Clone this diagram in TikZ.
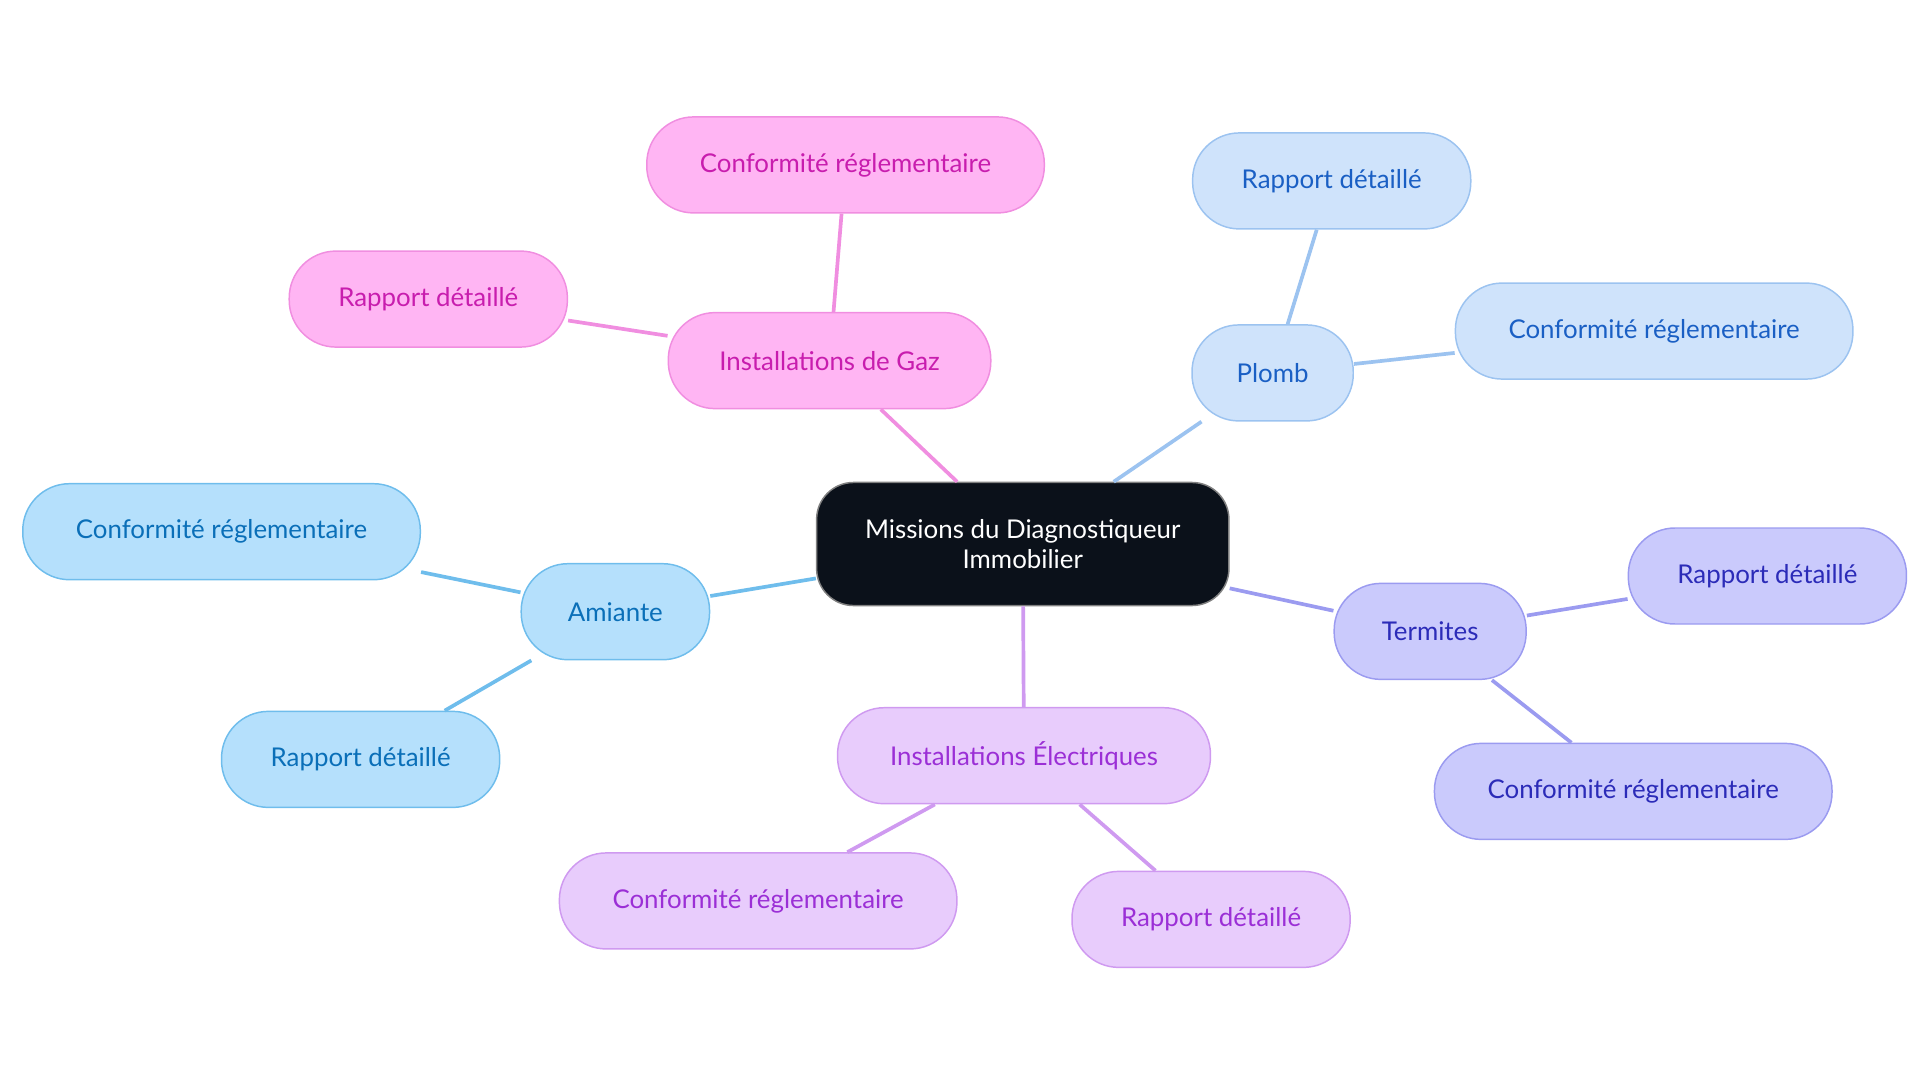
\documentclass[tikz,border=0pt]{standalone}
\usepackage{fontspec}
\setmainfont{Lato}
\begin{document}
\begin{tikzpicture}[x=1pt,y=-1pt,
 base/.style={rounded corners=38pt,minimum height=78pt,line width=1.2pt,font=\fontsize{21}{24}\selectfont,align=center,inner sep=0pt},
 gaz/.style={base,fill=gazf,draw=gazd,text=gazt},
 plo/.style={base,fill=plof,draw=plod,text=plot},
 ami/.style={base,fill=amif,draw=amid,text=amit},
 ter/.style={base,fill=terf,draw=terd,text=tert},
 ele/.style={base,fill=elef,draw=eled,text=elet},
 ed/.style={line width=3pt}]
\definecolor{gazf}{HTML}{FFB5F3}\definecolor{gazd}{HTML}{F08EE0}\definecolor{gazt}{HTML}{C81DAE}
\definecolor{plof}{HTML}{CFE3FB}\definecolor{plod}{HTML}{9CC3F0}\definecolor{plot}{HTML}{1A5FC4}
\definecolor{amif}{HTML}{B5E0FC}\definecolor{amid}{HTML}{6FBDEC}\definecolor{amit}{HTML}{0A6FB8}
\definecolor{terf}{HTML}{CACAFC}\definecolor{terd}{HTML}{9B9BF0}\definecolor{tert}{HTML}{2B2BB8}
\definecolor{elef}{HTML}{E8CCFC}\definecolor{eled}{HTML}{CF9AF0}\definecolor{elet}{HTML}{9B2FD6}
\definecolor{cfill}{HTML}{0B111A}
\useasboundingbox (0,0) rectangle (1560,880);
\node[base,fill=cfill,draw=gray,text=white,minimum width=335pt,minimum height=100pt,rounded corners=30pt] (c) at (831,442) {Missions du Diagnostiqueur\\Immobilier};
\node[gaz,minimum width=262pt] (g) at (674,293) {Installations de Gaz};
\node[gaz,minimum width=323pt] (g1) at (687,134) {Conformité réglementaire};
\node[gaz,minimum width=226pt] (g2) at (348,243) {Rapport détaillé};
\node[plo,minimum width=131pt] (p) at (1034,303) {Plomb};
\node[plo,minimum width=226pt] (p1) at (1082,147) {Rapport détaillé};
\node[plo,minimum width=323pt] (p2) at (1344,269) {Conformité réglementaire};
\node[ami,minimum width=153pt] (a) at (500,497) {Amiante};
\node[ami,minimum width=323pt] (a1) at (180,432) {Conformité réglementaire};
\node[ami,minimum width=226pt] (a2) at (293,617) {Rapport détaillé};
\node[ter,minimum width=156pt] (t) at (1162,513) {Termites};
\node[ter,minimum width=226pt] (t1) at (1436,468) {Rapport détaillé};
\node[ter,minimum width=323pt] (t2) at (1327,643) {Conformité réglementaire};
\node[ele,minimum width=303pt] (e) at (832,614) {Installations Électriques};
\node[ele,minimum width=323pt] (e1) at (616,732) {Conformité réglementaire};
\node[ele,minimum width=226pt] (e2) at (984,747) {Rapport détaillé};
\draw[ed,gazd] (c) -- (g);
\draw[ed,gazd] (g) -- (g1); \draw[ed,gazd] (g) -- (g2);
\draw[ed,plod] (c) -- (p); \draw[ed,plod] (p) -- (p1); \draw[ed,plod] (p) -- (p2);
\draw[ed,amid] (c) -- (a); \draw[ed,amid] (a) -- (a1); \draw[ed,amid] (a) -- (a2);
\draw[ed,terd] (c) -- (t); \draw[ed,terd] (t) -- (t1); \draw[ed,terd] (t) -- (t2);
\draw[ed,eled] (c) -- (e); \draw[ed,eled] (e) -- (e1); \draw[ed,eled] (e) -- (e2);
\end{tikzpicture}
\end{document}
